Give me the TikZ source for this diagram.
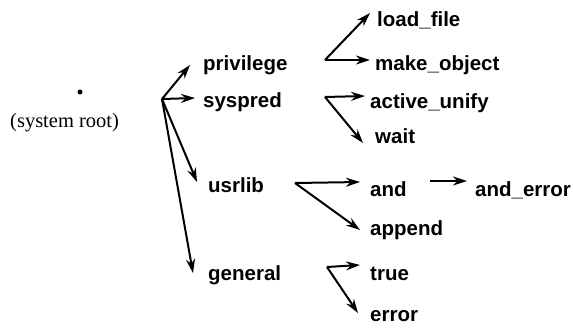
\documentclass[tikz,border=0pt]{standalone}
\usepackage{fontspec}
\setmainfont{Liberation Serif}
\setsansfont{Liberation Sans}
\usetikzlibrary{arrows.meta}
\tikzstyle{module} = [font=\sffamily\bfseries\fontsize{20.5}{24}\selectfont, inner sep=0pt, anchor=base west]
\tikzstyle{arrow} = [line width=2pt, line join=round, -{Stealth[length=14pt,width=9pt]}]

\begin{document}
\begin{tikzpicture}[x=1pt,y=-1pt]
\useasboundingbox (0,0) rectangle (573,327);

% Nodes
\node (root) [circle, fill=black, inner sep=0pt, minimum size=5pt] at (80,92) {};
\node (rootlabel) [font=\fontsize{20.5}{24}\selectfont, inner sep=0pt, anchor=base west] at (10,127) {(system root)};
\node (privilege) [module] at (203,70) {privilege};
\node (syspred) [module] at (203,107) {syspred};
\node (usrlib) [module] at (208,192) {usrlib};
\node (general) [module] at (208,280) {general};
\node (loadfile) [module] at (377,26) {load\_file};
\node (makeobject) [module] at (375,70) {make\_object};
\node (activeunify) [module] at (370,108) {active\_unify};
\node (wait) [module] at (375,143) {wait};
\node (and) [module] at (370,196) {and};
\node (append) [module] at (370,235) {append};
\node (anderror) [module] at (475,196) {and\_error};
\node (true) [module] at (370,280) {true};
\node (error) [module] at (370,321) {error};

% Forks
\coordinate (fork0) at (162,99);
\coordinate (fork1) at (325,60);
\coordinate (fork2) at (325,97);
\coordinate (fork3) at (295,183);
\coordinate (fork4) at (327,267);

% Arrows
\draw [arrow] (fork0) -- ([xshift=-13pt,yshift=5pt]privilege.base west);
\draw [arrow] (fork0) -- ([xshift=-8pt,yshift=9pt]syspred.base west);
\draw [arrow] (fork0) -- ([xshift=-11pt,yshift=10pt]usrlib.base west);
\draw [arrow] (fork0) -- ([xshift=-15pt,yshift=7pt]general.base west);
\draw [arrow] (fork1) -- ([xshift=-7pt,yshift=13pt]loadfile.base west);
\draw [arrow] (fork1) -- ([xshift=-5pt,yshift=10pt]makeobject.base west);
\draw [arrow] (fork2) -- ([xshift=-5pt,yshift=12pt]activeunify.base west);
\draw [arrow] (fork2) -- ([xshift=-12pt,yshift=0pt]wait.base west);
\draw [arrow] (fork3) -- ([xshift=-10pt,yshift=14pt]and.base west);
\draw [arrow] (fork3) -- ([xshift=-10pt,yshift=5pt]append.base west);
\draw [arrow] ([xshift=23pt,yshift=15pt]and.base east) -- ([xshift=-8pt,yshift=15pt]anderror.base west);
\draw [arrow] (fork4) -- ([xshift=-10pt,yshift=15pt]true.base west);
\draw [arrow] (fork4) -- ([xshift=-12pt,yshift=8pt]error.base west);

\end{tikzpicture}
\end{document}
